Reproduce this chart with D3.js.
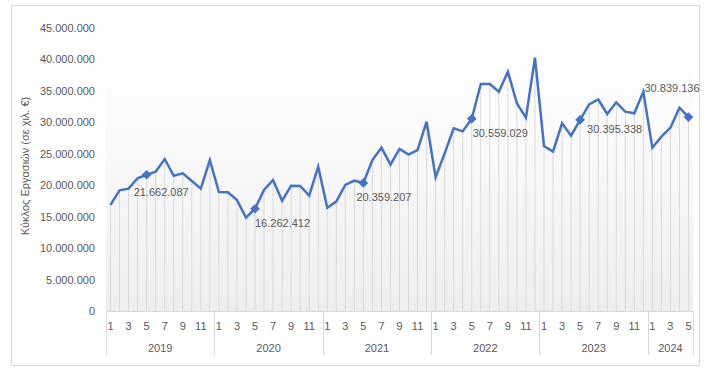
<!DOCTYPE html>
<html>
<head>
<meta charset="utf-8">
<script src="https://cdn.jsdelivr.net/npm/d3@7"></script>
<style>
  body { margin: 0; background: #fff; }
  text { font-family: "Liberation Sans", Arial, sans-serif; fill: #595959; }
</style>
</head>
<body>
<div id="chart"></div>
<script>
// chart data (monthly turnover, thousand €)
let years = ["2019", "2020", "2021", "2022", "2023", "2024"];
let monthsPerYear = [12, 12, 12, 12, 12, 5];
let yTicks = [0, 5000000, 10000000, 15000000, 20000000, 25000000, 30000000, 35000000, 40000000, 45000000];
let values = [
  16860000, 19190000, 19450000, 21100000, 21662087, 22150000, 24170000, 21500000, 21900000, 20670000, 19450000, 24000000,
  18900000, 18870000, 17650000, 14840000, 16262412, 19240000, 20830000, 17540000, 19930000, 19880000, 18340000, 22950000,
  16430000, 17390000, 20040000, 20720000, 20359207, 24000000, 25970000, 23270000, 25760000, 24860000, 25600000, 30100000,
  21260000, 25070000, 29050000, 28570000, 30559029, 36100000, 36100000, 34870000, 38060000, 33020000, 30740000, 40280000,
  26240000, 25340000, 29840000, 27880000, 30395338, 32860000, 33660000, 31330000, 33180000, 31700000, 31430000, 34870000,
  25970000, 27720000, 29150000, 32330000, 30839136
];
let yTitle = "Κύκλος Εργασιών (σε χιλ. €)";

let svgWidth = 715;
let svgHeight = 381;

let plot = { left: 106, right: 693, top: 28, bottom: 311 };

// flatten months
let points = [];
years.forEach((yr, yi) => {
  for (let m = 1; m <= monthsPerYear[yi]; m++) {
    points.push({ year: yr, month: m, value: values[points.length] });
  }
});
points.forEach((d, i) => d.i = i);

let svg = d3.select("#chart")
  .append("svg")
  .attr("width", svgWidth)
  .attr("height", svgHeight);

// outer chart border
svg.append("rect")
  .attr("x", 11.5).attr("y", 5.5)
  .attr("width", 688).attr("height", 360)
  .attr("fill", "#fff")
  .attr("stroke", "#d9d9d9");

// plot area gradient
let grad = svg.append("defs").append("linearGradient")
  .attr("id", "bg").attr("x1", 0).attr("y1", 0).attr("x2", 0).attr("y2", 1);
grad.append("stop").attr("offset", "0%").attr("stop-color", "#ffffff");
grad.append("stop").attr("offset", "12%").attr("stop-color", "#ffffff");
grad.append("stop").attr("offset", "100%").attr("stop-color", "#eeeeee");

svg.append("rect")
  .attr("x", plot.left).attr("y", plot.top)
  .attr("width", plot.right - plot.left).attr("height", plot.bottom - plot.top)
  .attr("fill", "url(#bg)");

let x = d3.scaleBand()
  .domain(points.map(d => d.i))
  .range([plot.left, plot.right])
  .padding(0);
let cx = i => x(i) + x.bandwidth() / 2;

let y = d3.scaleLinear()
  .domain([0, 45000000])
  .range([plot.bottom, plot.top]);

let loc = d3.formatLocale({ decimal: ",", thousands: ".", grouping: [3], currency: ["", "€"] });
let fmt = loc.format(",d");

// y axis labels (no line)
let yAxis = svg.append("g")
  .attr("transform", `translate(${plot.left}, 0)`)
  .call(d3.axisLeft(y).tickValues(yTicks).tickFormat(fmt).tickSize(0).tickPadding(11));
yAxis.select(".domain").remove();
yAxis.selectAll("text")
  .attr("font-size", 11)
  .attr("font-family", "Liberation Sans, Arial, sans-serif")
  .attr("fill", "#595959");

// y title
svg.append("text")
  .attr("transform", `translate(29, 166) rotate(-90)`)
  .attr("text-anchor", "middle")
  .attr("font-size", 11)
  .text(yTitle);

// drop lines
svg.append("g").selectAll("line")
  .data(points)
  .enter()
  .append("line")
  .attr("x1", d => cx(d.i)).attr("x2", d => cx(d.i))
  .attr("y1", d => y(d.value)).attr("y2", plot.bottom)
  .attr("stroke", "#d9d9d9")
  .attr("stroke-width", 1);

// category axis: line, separators, labels
let axisG = svg.append("g");
axisG.append("line")
  .attr("x1", plot.left).attr("x2", plot.right)
  .attr("y1", plot.bottom + 0.5).attr("y2", plot.bottom + 0.5)
  .attr("stroke", "#d9d9d9");

let yearStart = [];
let acc = 0;
monthsPerYear.forEach(n => { yearStart.push(acc); acc += n; });

let sepX = yearStart.map(s => x(s)).concat([plot.right]);
axisG.selectAll("line.sep")
  .data(sepX)
  .enter()
  .append("line")
  .attr("class", "sep")
  .attr("x1", d => Math.round(d) + 0.5).attr("x2", d => Math.round(d) + 0.5)
  .attr("y1", plot.bottom).attr("y2", plot.bottom + 44)
  .attr("stroke", "#d9d9d9");

axisG.selectAll("text.month")
  .data(points.filter(d => d.month % 2 === 1))
  .enter()
  .append("text")
  .attr("class", "month")
  .attr("x", d => cx(d.i))
  .attr("y", plot.bottom + 19)
  .attr("text-anchor", "middle")
  .attr("font-size", 11)
  .text(d => d.month);

axisG.selectAll("text.year")
  .data(years)
  .enter()
  .append("text")
  .attr("class", "year")
  .attr("x", (d, k) => (x(yearStart[k]) + x(yearStart[k] + monthsPerYear[k] - 1) + x.bandwidth()) / 2)
  .attr("y", plot.bottom + 41)
  .attr("text-anchor", "middle")
  .attr("font-size", 11)
  .text(d => d);

// line
let line = d3.line()
  .x(d => cx(d.i))
  .y(d => y(d.value));

svg.append("path")
  .datum(points)
  .attr("d", line)
  .attr("fill", "none")
  .attr("stroke", "#4472c4")
  .attr("stroke-width", 2.5)
  .attr("stroke-linejoin", "miter");

// May markers + labels
let marked = points.filter(d => d.month === 5);
let diamond = d3.symbol().type(d3.symbolDiamond2).size(60);

svg.append("g").selectAll("path")
  .data(marked)
  .enter()
  .append("path")
  .attr("d", diamond)
  .attr("transform", d => `translate(${cx(d.i)}, ${y(d.value)})`)
  .attr("fill", "#4472c4");

// label nudges (dx from marker to label start, dy to label middle)
let nudge = [[-13, 17], [0, 14], [-7, 14], [1, 14], [7, 9], [-44, -29]];
svg.append("g").selectAll("text")
  .data(marked)
  .enter()
  .append("text")
  .attr("x", (d, k) => cx(d.i) + nudge[k][0])
  .attr("y", (d, k) => y(d.value) + nudge[k][1])
  .attr("dy", "0.35em")
  .attr("font-size", 11)
  .text(d => fmt(d.value));
</script>
</body>
</html>
